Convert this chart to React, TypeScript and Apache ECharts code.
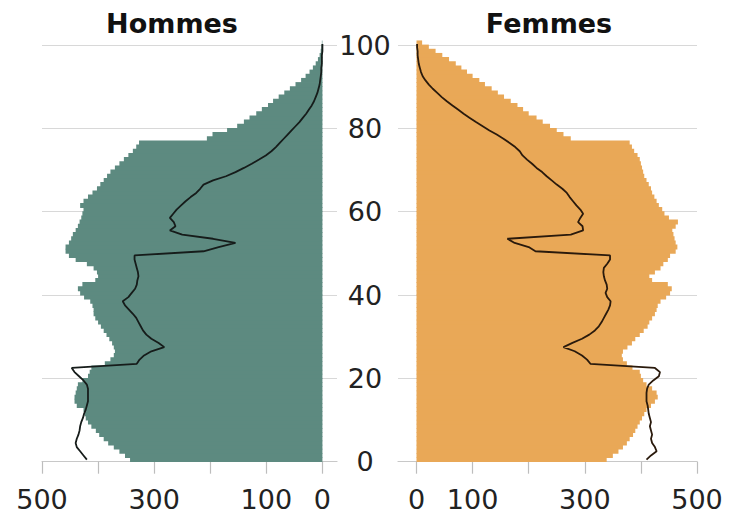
import React, { useEffect, useRef } from "react";
import * as echarts from "echarts";

// Age pyramid: bars = recent year, line = older year. Index = age (0..100), values in thousands.
const menBars = [
  343, 352, 362, 372, 382, 390, 398, 404, 412, 418,
  422, 424, 426, 438, 442, 442, 440, 438, 436, 428,
  418, 415, 412, 388, 378, 372, 370, 372, 375, 380,
  385, 390, 395, 400, 405, 408, 408, 410, 414, 425,
  432, 436, 428, 405, 400, 402, 408, 420, 440, 452,
  458, 458, 452, 448, 445, 440, 436, 433, 430, 428,
  426, 432, 426, 418, 410, 402, 396, 390, 384, 378,
  370, 362, 354, 346, 338, 332, 327, 206, 196, 170,
  152, 140, 130, 118, 108, 97, 88, 78, 68, 58,
  48, 38, 30, 23, 17, 12, 8, 5, 3, 2, 1,
];

const menLine = [
  420, 426, 432, 438, 440, 438, 435, 433, 432, 430,
  427, 425, 422, 420, 418, 418, 418, 418, 420, 426,
  434, 442, 447, 331, 326, 318, 305, 282, 292, 305,
  314, 320, 324, 328, 332, 338, 345, 352, 356, 346,
  340, 334, 331, 330, 328, 329, 331, 333, 335, 335,
  212, 185, 155, 195, 250, 272, 262, 265, 272, 266,
  260, 252, 244, 235, 225, 218, 212, 195, 172, 155,
  140, 126, 113, 101, 91, 83, 76, 69, 62, 55,
  48, 41, 35, 29, 24, 19, 15, 12, 9, 7,
  5, 4, 3, 2, 2, 1, 1, 1, 0, 0, 0,
];

const womenBars = [
  339, 350, 360, 368, 375, 380, 386, 390, 394, 398,
  402, 406, 410, 418, 425, 430, 428, 420, 410, 404,
  400, 398, 385, 375, 368, 366, 368, 376, 384, 390,
  398, 405, 412, 415, 420, 425, 428, 430, 435, 445,
  452, 455, 448, 420, 415, 425, 435, 440, 448, 452,
  462, 465, 462, 460, 458, 456, 462, 466, 450, 442,
  438, 432, 428, 424, 420, 418, 414, 410, 406, 404,
  402, 400, 398, 394, 388, 384, 380, 275, 262, 250,
  238, 225, 214, 200, 190, 180, 168, 156, 145, 134,
  122, 112, 100, 90, 80, 70, 58, 46, 34, 22, 10,
];

const womenLine = [
  410, 418, 428, 425, 420, 418, 420, 418, 416, 418,
  416, 414, 413, 412, 410, 410, 410, 411, 414, 422,
  432, 434, 425, 310, 304, 295, 282, 262, 278, 295,
  308, 318, 325, 330, 334, 338, 342, 345, 346, 340,
  337, 340, 339, 336, 334, 333, 334, 340, 345, 345,
  212, 200, 175, 162, 275, 297, 296, 288, 292, 297,
  292, 285, 279, 273, 268, 260, 250, 241, 232, 224,
  214, 206, 197, 189, 184, 176, 166, 155, 143, 130,
  118, 106, 95, 84, 74, 64, 54, 45, 37, 29,
  22, 16, 11, 8, 6, 4, 3, 2, 2, 1, 1,
];

const ageTicks = [0, 20, 40, 60, 80, 100];
const xTickValues = [0, 100, 200, 300, 400, 500];
const xLabelValues = [0, 100, 300, 500];
const titles = ["Hommes", "Femmes"];

const GREEN = "#5d8a80";
const ORANGE = "#e9a857";
const FONT = "DejaVu Sans";

function barRenderer(color: string) {
  return (_params: any, api: any) => {
    const v = api.value(0);
    const age = api.value(1);
    const p0 = api.coord([0, age]);
    const p1 = api.coord([v, age + 1]);
    return {
      type: "rect",
      shape: {
        x: Math.min(p0[0], p1[0]),
        y: Math.min(p0[1], p1[1]) - 0.4,
        width: Math.abs(p1[0] - p0[0]),
        height: Math.abs(p0[1] - p1[1]) + 0.8,
      },
      style: { fill: color },
    };
  };
}

export default function App() {
  const ref = useRef<HTMLDivElement>(null);
  useEffect(() => {
    if (!ref.current) return;
    const chart = echarts.init(ref.current, null, { renderer: "svg" });
    const xAxisCommon = (inverse: boolean, min: number, gridIndex: number) => ({
      type: "value",
      gridIndex,
      inverse,
      min,
      max: 500,
      axisLine: { show: true, onZero: false, lineStyle: { color: "#c8c8c8", width: 1.2 } },
      axisTick: { show: true, customValues: xTickValues, length: 12, lineStyle: { color: "#bdbdbd", width: 1.2 } },
      axisLabel: {
        customValues: xLabelValues,
        fontSize: 27,
        fontFamily: FONT,
        color: "#222",
        margin: 24,
      },
      splitLine: { show: false },
    });
    const yAxisCommon = (gridIndex: number, showLabel: boolean) => ({
      type: "value",
      gridIndex,
      min: 0,
      max: 100,
      interval: 20,
      position: "right",
      axisLine: { show: false },
      axisTick: { show: false },
      axisLabel: {
        show: showLabel,
        customValues: ageTicks,
        align: "center",
        margin: 28,
        fontSize: 27,
        fontFamily: FONT,
        color: "#222",
      },
      splitLine: { show: true, lineStyle: { color: "#d8d8d8", width: 1.2 } },
    });
    chart.setOption({
      animation: false,
      backgroundColor: "#ffffff",
      grid: [
        { left: 42, right: 731 - 337, top: 45, bottom: 519 - 461.7, containLabel: false },
        { left: 398, right: 731 - 697, top: 45, bottom: 519 - 461.7, containLabel: false },
      ],
      xAxis: [xAxisCommon(true, -26, 0), xAxisCommon(false, -33, 1)],
      yAxis: [yAxisCommon(0, true), yAxisCommon(1, false)],
      graphic: [
        {
          type: "text",
          x: 172,
          y: 23,
          style: {
            text: titles[0],
            fontSize: 27,
            fontWeight: "bold",
            fontFamily: FONT,
            fill: "#111",
            textAlign: "center",
            textVerticalAlign: "middle",
          },
        },
        {
          type: "text",
          x: 549,
          y: 23,
          style: {
            text: titles[1],
            fontSize: 27,
            fontWeight: "bold",
            fontFamily: FONT,
            fill: "#111",
            textAlign: "center",
            textVerticalAlign: "middle",
          },
        },
      ],
      series: [
        {
          type: "custom",
          xAxisIndex: 0,
          yAxisIndex: 0,
          renderItem: barRenderer(GREEN),
          encode: { x: 0, y: 1 },
          data: menBars.map((v, age) => [v, age]),
          z: 1,
        },
        {
          type: "line",
          xAxisIndex: 0,
          yAxisIndex: 0,
          showSymbol: false,
          lineStyle: { color: "#161c1a", width: 1.8 },
          data: menLine.map((v, age) => [v, age + 0.5]),
          z: 3,
        },
        {
          type: "custom",
          xAxisIndex: 1,
          yAxisIndex: 1,
          renderItem: barRenderer(ORANGE),
          encode: { x: 0, y: 1 },
          data: womenBars.map((v, age) => [v, age]),
          z: 1,
        },
        {
          type: "line",
          xAxisIndex: 1,
          yAxisIndex: 1,
          showSymbol: false,
          lineStyle: { color: "#2a1a0c", width: 1.8 },
          data: womenLine.map((v, age) => [v, age + 0.5]),
          z: 3,
        },
      ],
    });
    return () => chart.dispose();
  }, []);
  return (
    <div
      ref={ref}
      style={{ position: "fixed", left: 0, top: 0, width: 731, height: 519, background: "#fff" }}
    />
  );
}
